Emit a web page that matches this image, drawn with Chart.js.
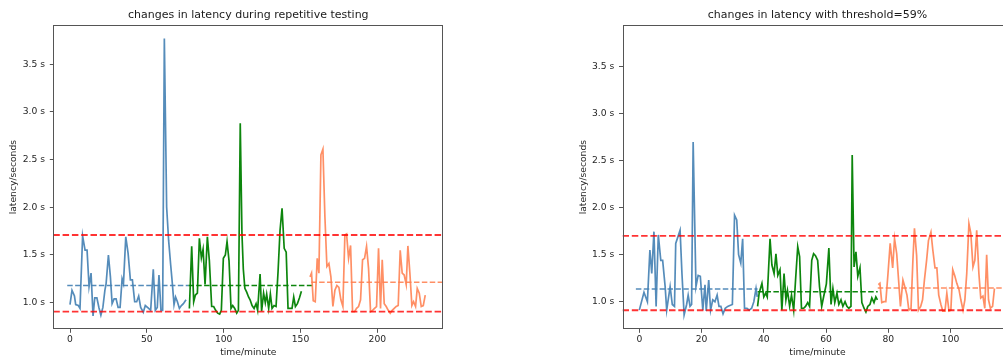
<!DOCTYPE html>
<html>
<head>
<meta charset="utf-8">
<script src="https://cdn.jsdelivr.net/npm/chart.js@4.4.1/dist/chart.umd.min.js"></script>
<style>
  html, body { margin: 0; padding: 0; background: #fff; overflow: hidden; width: 1003px; height: 358px; }
  #wrap { position: relative; width: 1003px; height: 358px; overflow: hidden; }
  canvas { position: absolute; top: 0; }
  #latencyAll { left: 0; }
  #latencyThreshold { left: 500px; }
</style>
</head>
<body>
<div id="wrap">
  <canvas id="latencyAll" width="500" height="358"></canvas>
  <canvas id="latencyThreshold" width="513" height="358"></canvas>
</div>
<script>
// ---- repetitive testing run (minutes, seconds) ----
const runABlueT = [0, 1.3, 2.9, 3.7, 5.4, 6.5, 8.2, 9.8, 11.1, 12.4, 13.7, 15, 16.1, 17.5, 18.8, 20.1, 21.4, 22.7, 23.5, 25, 26.3, 27.4, 28.7, 30, 31.3, 32.6, 33.9, 34.8, 36.3, 37.8, 39.3, 40.6, 42.1, 43.4, 44.7, 46, 47.7, 49, 51.2, 52.5, 54.2, 55.5, 56.8, 57.9, 59.2, 60.3, 61.4, 62.9, 64.2, 65.5, 66.5, 67.7, 68.7, 69.9, 71.2, 72.5, 73.8, 75.5];
const runABlueV = [0.98, 1.13, 1.07, 0.98, 0.97, 0.94, 1.70, 1.55, 1.55, 1.17, 1.31, 0.86, 1.05, 1.05, 0.95, 0.87, 0.95, 1.13, 1.20, 1.50, 1.27, 0.99, 1.04, 1.04, 0.95, 0.95, 1.25, 1.20, 1.69, 1.52, 1.24, 1.24, 1.01, 1.01, 1.07, 0.95, 0.90, 0.97, 0.94, 0.92, 1.35, 0.92, 0.95, 1.29, 0.92, 0.92, 3.77, 2.0, 1.65, 1.40, 1.22, 0.98, 1.06, 1.01, 0.94, 0.97, 0.99, 1.03];

const runAGreenT = [77.7, 79.2, 80.5, 81.6, 82.9, 84.2, 85.5, 86.6, 87.9, 89.4, 90.7, 92.2, 93.5, 94.8, 96.1, 97.4, 98.5, 99.8, 101.1, 102.2, 103.5, 104.8, 105.9, 107.2, 108.5, 109.6, 110.8, 111.9, 112.8, 113.8, 115, 116.2, 117.2, 118.5, 119.8, 121.1, 122.1, 123.7, 124.7, 126, 127.1, 128, 129.3, 130.4, 131.5, 132.8, 134.1, 135.4, 136.7, 138, 139.4, 140.7, 141.9, 143.3, 144.5, 145.6, 146.7, 148, 149.3, 150.6];
const runAGreenV = [0.94, 1.59, 1.01, 1.08, 1.10, 1.675, 1.47, 1.56, 1.19, 1.69, 1.44, 0.96, 0.96, 0.92, 0.89, 0.88, 0.92, 1.465, 1.50, 1.64, 1.44, 0.94, 0.97, 0.94, 0.89, 0.92, 2.88, 1.73, 1.35, 1.15, 1.11, 1.06, 1.03, 0.97, 0.94, 0.99, 0.92, 1.30, 0.91, 1.10, 1.0, 1.09, 0.94, 1.09, 0.94, 0.97, 0.96, 1.325, 1.76, 1.99, 1.57, 1.53, 0.94, 0.94, 0.94, 1.06, 0.96, 0.99, 1.05, 1.12];

const runAOrangeT = [156.2, 157.2, 158.3, 159.6, 160.9, 162, 163.3, 164.6, 165.9, 167.2, 168.5, 169.8, 171.1, 172.4, 173.7, 175, 176.3, 177.6, 178.9, 180, 181.3, 182.6, 183.9, 185.2, 186.5, 187.8, 189.1, 190.4, 191.7, 193, 194.3, 195.6, 196.9, 198.2, 199.5, 200.8, 202.1, 203.2, 204.5, 205.8, 207.1, 208.4, 209.7, 211, 212.3, 213.6, 214.9, 216.2, 217.5, 218.8, 219.9, 221.2, 222.5, 223.6, 224.9, 226, 227.3, 228.6, 229.9, 231.2];
const runAOrangeV = [1.27, 1.31, 1.02, 1.01, 1.465, 1.31, 2.55, 2.61, 1.9, 1.38, 1.41, 1.27, 0.96, 1.13, 1.18, 1.16, 1.03, 0.96, 1.71, 1.72, 1.465, 1.60, 0.905, 0.905, 0.94, 0.96, 1.03, 1.45, 1.465, 1.59, 1.36, 0.905, 0.92, 0.94, 0.96, 1.57, 0.94, 1.45, 0.99, 0.96, 0.92, 0.89, 0.92, 0.94, 0.96, 0.97, 1.55, 1.31, 1.29, 1.19, 1.595, 1.31, 0.97, 1.01, 0.96, 1.15, 1.10, 0.96, 0.97, 1.08];

// segment means: [from, to, value]
const runAMeans = [[-1.8, 77, 1.18], [77, 158, 1.18], [157, 243, 1.214]];
const runABounds = [1.71, 0.906];

// ---- run with threshold=59% (minutes, seconds) ----
const runBBlueT = [0, 1.5, 2.6, 3.4, 4.0, 4.7, 5.4, 6.1, 6.9, 7.5, 8.3, 8.8, 9.9, 10.6, 11.3, 11.7, 13.1, 13.7, 14.4, 15.2, 15.7, 16.3, 16.8, 17.3, 18.2, 18.9, 19.6, 20.4, 21.1, 21.5, 22.3, 22.9, 23.6, 24.3, 25, 25.6, 26.2, 26.9, 27.6, 28.4, 29.1, 29.9, 30.6, 31.3, 31.9, 32.6, 33.2, 33.8, 34.6, 35.3, 36.1, 36.8, 37.5, 37.9];
const runBBlueV = [0.91, 1.10, 1.0, 1.55, 1.30, 1.745, 0.95, 1.71, 1.44, 1.44, 1.16, 0.91, 1.16, 0.97, 0.95, 1.62, 1.76, 1.30, 0.86, 0.97, 1.07, 0.95, 0.97, 2.70, 1.16, 1.28, 1.27, 0.91, 1.18, 0.90, 1.23, 0.91, 1.02, 1.0, 1.07, 0.95, 0.95, 0.87, 0.93, 0.95, 0.96, 0.97, 1.92, 1.87, 1.50, 1.41, 1.67, 0.93, 0.93, 0.91, 0.93, 1.0, 1.14, 1.05];

const runBGreenT = [38.0, 38.5, 39.4, 40.0, 40.6, 41.1, 42.0, 42.6, 43.3, 43.9, 44.5, 45.2, 45.8, 46.5, 47.1, 47.6, 48.3, 48.9, 49.6, 50.2, 50.9, 51.5, 52.1, 52.8, 53.4, 54.1, 54.7, 55.4, 56.0, 56.6, 57.3, 57.9, 58.6, 59.2, 60.1, 60.9, 61.6, 62.2, 62.8, 63.5, 64.1, 64.8, 65.4, 66.1, 66.7, 67.3, 68.0, 68.4, 69.0, 69.6, 70.2, 70.9, 71.5, 72.2, 72.8, 73.4, 74.1, 74.7, 75.4, 76.0, 76.5];
const runBGreenV = [0.95, 1.09, 1.195, 1.05, 1.09, 1.05, 1.67, 1.39, 1.30, 1.51, 1.28, 1.34, 0.91, 1.30, 1.02, 1.12, 0.95, 1.07, 0.91, 1.23, 1.585, 1.48, 0.93, 0.93, 0.95, 0.99, 0.95, 1.44, 1.51, 1.49, 1.44, 1.16, 0.95, 1.05, 1.19, 1.57, 0.97, 1.14, 0.99, 1.09, 0.97, 1.02, 0.95, 1.0, 0.95, 0.93, 0.95, 2.56, 1.37, 1.53, 1.27, 1.36, 0.99, 0.93, 0.89, 0.95, 0.97, 1.04, 0.99, 1.05, 1.02];

const runBOrangeT = [76.8, 77.3, 77.9, 78.6, 79.2, 79.9, 80.6, 81.4, 82.0, 82.7, 83.3, 83.9, 84.7, 85.3, 86.0, 86.6, 87.3, 87.9, 88.4, 89.1, 89.7, 90.4, 91.0, 91.6, 92.3, 92.9, 93.7, 94.3, 95.0, 95.6, 96.2, 96.9, 97.5, 98.2, 98.8, 99.5, 100.1, 100.7, 101.4, 102.0, 102.7, 103.3, 104.0, 104.6, 105.2, 105.9, 106.5, 107.2, 107.8, 108.4, 109.1, 109.7, 110.4, 111.0, 111.6, 112.2, 112.8, 113.5, 114.1];
const runBOrangeV = [1.18, 1.195, 0.99, 1.0, 1.0, 1.30, 1.62, 1.36, 1.67, 1.51, 1.23, 0.95, 1.23, 1.16, 1.07, 0.91, 0.93, 1.44, 1.78, 1.49, 0.91, 0.95, 1.02, 1.23, 1.44, 1.65, 1.74, 1.55, 1.36, 1.36, 1.07, 0.97, 0.90, 0.90, 1.09, 0.90, 0.91, 1.34, 1.27, 1.195, 1.13, 1.02, 0.91, 1.02, 1.30, 1.83, 1.73, 1.37, 1.44, 1.76, 1.30, 1.04, 1.06, 0.93, 1.50, 1.02, 0.93, 0.95, 1.14];

const runBMeans = [[-1.1, 38, 1.135], [38, 76.6, 1.106], [76.6, 120, 1.145]];
const runBBounds = [1.70, 0.908];

// ---- axis ticks ----
const runAXTicks = [0, 50, 100, 150, 200];
const runBXTicks = [0, 20, 40, 60, 80, 100];
const yTicks = [1.0, 1.5, 2.0, 2.5, 3.0, 3.5];

const BLUE = 'rgba(70,130,180,0.92)';
const GREEN = 'rgba(0,128,0,0.95)';
const CORAL = 'rgba(255,127,80,0.88)';
const RED = 'rgba(255,0,0,0.8)';
const TEXT = '#262626';
const FRAME = '#555';

Chart.defaults.font.family = "'DejaVu Sans', sans-serif";
Chart.defaults.color = TEXT;

const framePlugin = {
  id: 'frame',
  afterDraw(chart) {
    const { ctx, chartArea: a } = chart;
    ctx.save();
    ctx.strokeStyle = FRAME;
    ctx.lineWidth = 1;
    const l = Math.round(a.left) + 0.5, t = Math.round(a.top) + 0.5;
    const r = Math.round(a.right) - 0.5, b = Math.round(a.bottom) - 0.5;
    ctx.strokeRect(l, t, r - l, b - t);
    ctx.restore();
  }
};

function zip(ts, vs) {
  const n = Math.min(ts.length, vs.length);
  const out = [];
  for (let i = 0; i < n; i++) out.push({ x: ts[i], y: vs[i] });
  return out;
}

function makeChart(id, opt) {
  const tickFont = { size: 9.2 };
  const datasets = [];
  // thresholds over the full width
  opt.bounds.forEach(v => datasets.push({
    data: [{ x: opt.xMin, y: v }, { x: opt.xMax, y: v }],
    borderColor: RED, borderWidth: 1.9, borderDash: [6.5, 2.8], pointRadius: 0
  }));
  const colors = [BLUE, GREEN, CORAL];
  opt.series.forEach((s, i) => datasets.push({
    data: zip(s[0], s[1]), borderColor: colors[i], borderWidth: 1.7, pointRadius: 0, tension: 0
  }));
  opt.means.forEach((m, i) => datasets.push({
    data: [{ x: m[0], y: m[2] }, { x: m[1], y: m[2] }],
    borderColor: colors[i], borderWidth: 1.6, borderDash: [5.5, 2.4], pointRadius: 0
  }));

  return new Chart(document.getElementById(id), {
    type: 'line',
    data: { datasets },
    plugins: [framePlugin],
    options: {
      responsive: false,
      devicePixelRatio: 1,
      animation: false,
      events: [],
      layout: { padding: { left: opt.padLeft, right: opt.padRight, top: 0, bottom: 0 } },
      plugins: {
        legend: { display: false },
        tooltip: { enabled: false },
        title: {
          display: true, text: opt.title, fullSize: false,
          font: { size: 11, weight: 'normal' }, color: '#1a1a1a',
          padding: { top: 8.4, bottom: 3.4 }
        }
      },
      scales: {
        x: {
          type: 'linear', min: opt.xMin, max: opt.xMax,
          afterBuildTicks: s => { s.ticks = opt.xTicks.map(v => ({ value: v })); },
          afterFit: s => { s.height = 28.7; },
          ticks: { font: tickFont, color: TEXT, padding: 1.7, maxRotation: 0, autoSkip: false, callback: v => String(v) },
          grid: { drawOnChartArea: false, drawTicks: true, tickLength: 3.5, tickColor: FRAME },
          border: { display: false },
          title: { display: true, text: 'time/minute', font: tickFont, color: TEXT, padding: { top: 0, bottom: 0 } }
        },
        y: {
          type: 'linear', min: opt.yMin, max: opt.yMax,
          afterBuildTicks: s => { s.ticks = yTicks.map(v => ({ value: v })); },
          afterFit: s => { s.width = 53.3; },
          ticks: { font: tickFont, color: TEXT, padding: 4.8, callback: v => v.toFixed(1) + ' s' },
          grid: { drawOnChartArea: false, drawTicks: true, tickLength: 3.5, tickColor: FRAME },
          border: { display: false },
          title: { display: true, text: 'latency/seconds', font: tickFont, color: TEXT, padding: { top: 8.5, bottom: 0 } }
        }
      }
    }
  });
}

makeChart('latencyAll', {
  title: 'changes in latency during repetitive testing',
  xMin: -10.87, xMax: 242.95, yMin: 0.721, yMax: 3.911,
  xTicks: runAXTicks, padLeft: 0, padRight: 56.7,
  series: [[runABlueT, runABlueV], [runAGreenT, runAGreenV], [runAOrangeT, runAOrangeV]],
  means: runAMeans, bounds: runABounds
});

makeChart('latencyThreshold', {
  title: 'changes in latency with threshold=59%',
  xMin: -5.4, xMax: 119.9, yMin: 0.706, yMax: 3.944,
  xTicks: runBXTicks, padLeft: 69.2, padRight: 0.5,
  series: [[runBBlueT, runBBlueV], [runBGreenT, runBGreenV], [runBOrangeT, runBOrangeV]],
  means: runBMeans, bounds: runBBounds
});
</script>
</body>
</html>
